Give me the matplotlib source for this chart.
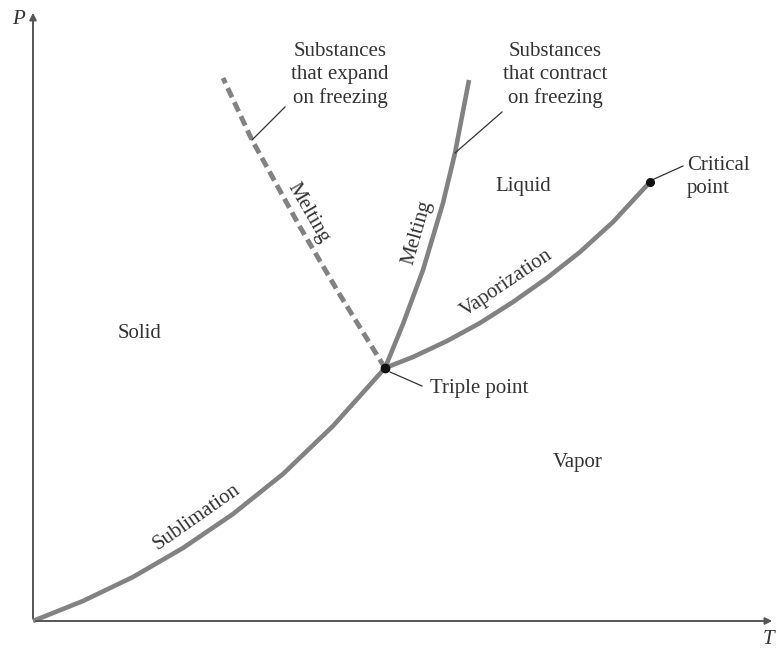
import matplotlib.pyplot as plt

# Phase diagram, values (arbitrary T / P units)
sub_T = [0, 50, 100, 150, 200, 250, 300, 352]
sub_P = [0, 20, 44, 73, 107, 147, 195, 253]

vap_T = [352, 380, 414, 447, 480, 514, 547, 580, 617]
vap_P = [253, 264, 280, 298, 319, 343, 369, 399, 439]

melt_T = [352, 370, 390, 410, 422, 436]
melt_P = [253, 297, 351, 418, 468, 541]

melt_exp_T = [352, 307, 267, 219, 190]
melt_exp_P = [253, 326, 394, 481, 543]

triple = (352, 253)
critical = (617, 439)

regions = ["Solid", "Liquid", "Vapor"]
region_pos = [(107, 288), (490, 434), (545, 159)]

LINE = "#828282"
TXT = "#333333"
FONT = "Liberation Serif"

fig = plt.figure(figsize=(7.77, 6.54), dpi=100)
ax = fig.add_axes([0, 0, 1, 1])
ax.set_xlim(-33, 744)
ax.set_ylim(-33, 621)
ax.axis("off")

# axes with arrows
ax.annotate("", xy=(742, 0), xytext=(0, 0),
            arrowprops=dict(arrowstyle="-|>", color="#555555", lw=1.4, mutation_scale=10))
ax.annotate("", xy=(0, 611), xytext=(0, 0),
            arrowprops=dict(arrowstyle="-|>", color="#555555", lw=1.4, mutation_scale=10))
ax.text(-15, 601, "P", fontsize=15, style="italic", family=FONT, color=TXT, ha="center", va="center")
ax.text(735, -19, "T", fontsize=15, style="italic", family=FONT, color=TXT, ha="center", va="center")

# phase boundaries
curve = dict(color=LINE, lw=3.3, solid_capstyle="butt", solid_joinstyle="round")
ax.plot(sub_T, sub_P, **curve)
ax.plot(vap_T, vap_P, **curve)
ax.plot(melt_T, melt_P, **curve)
ax.plot(melt_exp_T, melt_exp_P, color=LINE, lw=3.5, dashes=(2.1, 1.1))

ax.plot(*triple, "o", color="#111111", ms=6, zorder=5)
ax.plot(*critical, "o", color="#111111", ms=5.5, zorder=5)

txt = dict(fontsize=15, family=FONT, color=TXT)

for name, (x, y) in zip(regions, region_pos):
    ax.text(x, y, name, ha="center", va="center", **txt)

ax.text(275, 408, "Melting", rotation=-60, ha="center", va="center", rotation_mode="anchor", **txt)
ax.text(384, 388, "Melting", rotation=74, ha="center", va="center", rotation_mode="anchor", **txt)
ax.text(474, 338, "Vaporization", rotation=34, ha="center", va="center", rotation_mode="anchor", **txt)
ax.text(164, 104, "Sublimation", rotation=35, ha="center", va="center", rotation_mode="anchor", **txt)

# leader lines and notes
ax.plot([219, 252], [481, 514], color=TXT, lw=0.9)
ax.text(307, 546, "Substances\nthat expand\non freezing", ha="center", va="center",
        linespacing=1.27, **txt)
ax.plot([422, 469], [468, 509], color=TXT, lw=0.9)
ax.text(522, 546, "Substances\nthat contract\non freezing", ha="center", va="center",
        linespacing=1.27, **txt)

ax.plot([357, 389], [249, 235], color=TXT, lw=0.9)
ax.text(397, 233, "Triple point", ha="left", va="center", **txt)

ax.plot([619, 650], [441, 455], color=TXT, lw=0.9)
ax.text(654, 444, "Critical\npoint", ha="left", va="center", multialignment="left",
        linespacing=1.3, **txt)

fig.savefig("out.png", dpi=100)
